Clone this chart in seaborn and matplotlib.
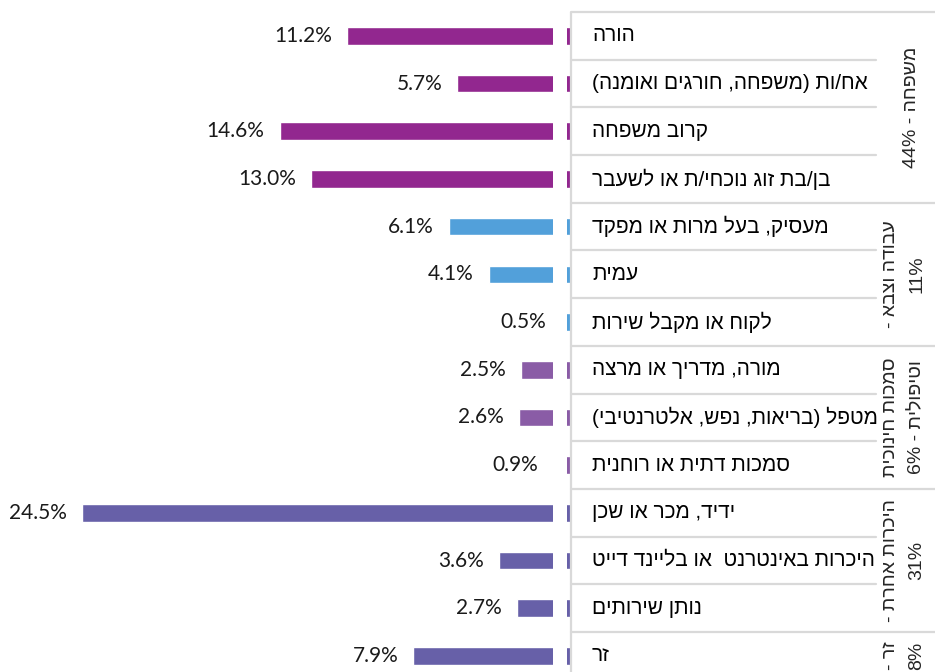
import re
import pandas as pd
import matplotlib
matplotlib.use('Agg')
import matplotlib.pyplot as plt
import seaborn as sns

sns.set_style('white')
plt.rcParams['font.family'] = ['Liberation Sans', 'DejaVu Sans']

# ---- data (rows top to bottom, Hebrew in logical order) ----
categories = ['הורה', 'אח/ות (משפחה, חורגים ואומנה)', 'קרוב משפחה', 'בן/בת זוג נוכחי/ת או לשעבר',
              'מעסיק, בעל מרות או מפקד', 'עמית', 'לקוח או מקבל שירות',
              'מורה, מדריך או מרצה', 'מטפל (בריאות, נפש, אלטרנטיבי)', 'סמכות דתית או רוחנית',
              'ידיד, מכר או שכן', 'היכרות באינטרנט  או בליינד דייט', 'נותן שירותים', 'זר']
values = [11.2, 5.7, 14.6, 13.0, 6.1, 4.1, 0.5, 2.5, 2.6, 0.9, 24.5, 3.6, 2.7, 7.9]
groups = ['family', 'family', 'family', 'family', 'work', 'work', 'work',
          'care', 'care', 'care', 'other', 'other', 'other', 'stranger']
group_names = ['family', 'work', 'care', 'other', 'stranger']
group_labels = ['משפחה - 44%', 'עבודה וצבא -\n11%', 'סמכות חינוכית\nוטיפולית - 6%',
                'היכרות אחרת -\n31%', 'זר -\n8%']
palette = {'family': '#92278F', 'work': '#52A0DA', 'care': '#8A5CA6',
           'other': '#6760A8', 'stranger': '#6760A8'}

MIRROR = {'(': ')', ')': '('}


def visual(s):
    # matplotlib has no bidi support: build the right-to-left visual order by hand
    out = []
    for line in s.split('\n'):
        r = ''.join(MIRROR.get(c, c) for c in reversed(line))
        r = re.sub(r'[0-9.%]+', lambda m: m.group(0)[::-1], r)
        out.append(r)
    return '\n'.join(out)


df = pd.DataFrame({'cat': categories, 'val': values, 'grp': groups})
df['neg'] = -df['val']

# ---- layout in pixels of the 935x672 canvas ----
W, H = 935, 672
PX_PER_UNIT = 19.95
ZERO_PX = 570.8
TOP_PX = 12
ROW_PX = 47.7
n = len(categories)

fig = plt.figure(figsize=(W / 100, H / 100), dpi=100)
ax = fig.add_axes([0, 0, 1, 1])

sns.barplot(data=df, x='neg', y='cat', hue='grp', palette=palette, dodge=False,
            orient='h', width=0.37, legend=False, ax=ax, saturation=1)

ax.set_xlim(-ZERO_PX / PX_PER_UNIT, (W - ZERO_PX) / PX_PER_UNIT)
ax.set_ylim((H - TOP_PX) / ROW_PX - 0.5, -TOP_PX / ROW_PX - 0.5)
ax.set_axis_off()

for cont in ax.containers:
    for p in cont:
        w = p.get_width()
        if pd.isna(w) or w == 0:
            continue
        ax.annotate(f'{-w:.1f}%', xy=(p.get_x() + w, p.get_y() + p.get_height() / 2),
                    xytext=(-15, 0), textcoords='offset pixels', ha='right', va='center',
                    fontsize=15, family=['Lato', 'DejaVu Sans'], color='#1a1a1a', zorder=4)

# white gap that leaves only a sliver of each bar next to the table
ax.axvspan(-0.89, -0.2, color='white', zorder=2.5, lw=0)

# ---- table to the right of the bars ----
trans = ax.get_yaxis_transform()
line_kw = dict(color='#D9D9D9', lw=1.6, zorder=3)
x_table = 571 / W
x_inner = 876 / W
ax.vlines(0, -0.5, n + 1, **line_kw)
group_bounds = [i for i in range(1, n) if groups[i] != groups[i - 1]]
ax.plot([x_table, 1], [-0.5, -0.5], transform=trans, clip_on=False, **line_kw)
for i in range(1, n):
    xe = 1 if i in group_bounds else x_inner
    ax.plot([x_table, xe], [i - 0.5, i - 0.5], transform=trans, **line_kw)

for i, c in enumerate(categories):
    ax.text(592 / W, i, visual(c), transform=trans, ha='left', va='center',
            fontsize=15, color='black')

for g, lab in zip(group_names, group_labels):
    rows = [i for i, gg in enumerate(groups) if gg == g]
    yc = (rows[0] + rows[-1]) / 2
    xc = 904 if '\n' in lab else 912
    ax.text(xc / W, yc, visual(lab), transform=trans, ha='center', va='center',
            rotation=90, fontsize=14, linespacing=1.7, multialignment='center')

fig.savefig('out.png', dpi=100)
